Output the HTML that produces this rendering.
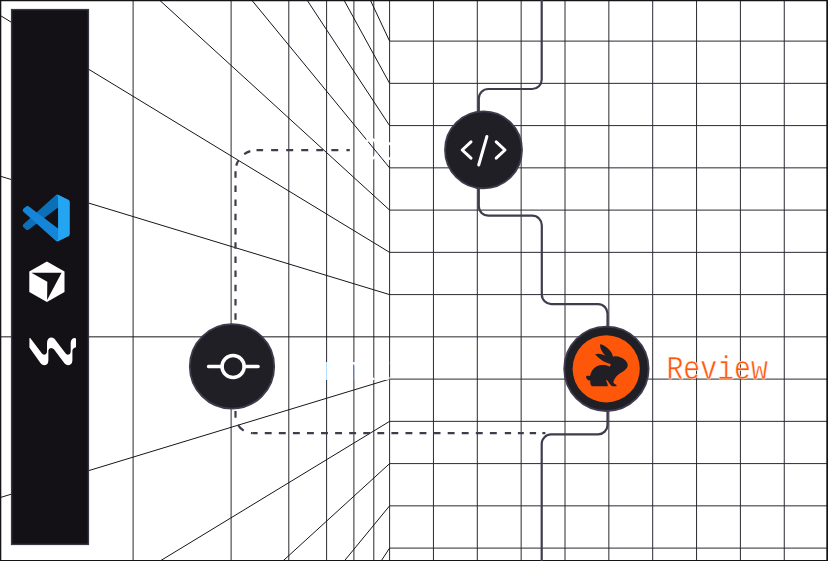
<!DOCTYPE html>
<html><head><meta charset="utf-8"><title>Review flow</title>
<style>
html,body{margin:0;padding:0;background:#fff;}
body{width:828px;height:561px;overflow:hidden;position:relative;font-family:"DejaVu Sans Mono","Liberation Mono",monospace;}
svg{position:absolute;left:0;top:0;display:block}
.lbl{position:absolute;font-size:27.6px;line-height:1;white-space:nowrap;transform-origin:0 100%;transform:scaleY(1.08);letter-spacing:0px}
</style></head><body>
<svg width="828" height="561" viewBox="0 0 828 561">
<rect x="0" y="0" width="828" height="561" fill="#ffffff"/>
<g stroke="#2b2930" stroke-width="1" fill="none" id="grid">
<line x1="389.60" y1="0" x2="389.60" y2="561"/>
<line x1="433.45" y1="0" x2="433.45" y2="561"/>
<line x1="477.30" y1="0" x2="477.30" y2="561"/>
<line x1="521.15" y1="0" x2="521.15" y2="561"/>
<line x1="565.00" y1="0" x2="565.00" y2="561"/>
<line x1="608.85" y1="0" x2="608.85" y2="561"/>
<line x1="652.70" y1="0" x2="652.70" y2="561"/>
<line x1="696.55" y1="0" x2="696.55" y2="561"/>
<line x1="740.40" y1="0" x2="740.40" y2="561"/>
<line x1="784.25" y1="0" x2="784.25" y2="561"/>
<line x1="828.10" y1="0" x2="828.10" y2="561"/>
<line x1="389.60" y1="41.10" x2="828" y2="41.10"/>
<line x1="389.60" y1="83.35" x2="828" y2="83.35"/>
<line x1="389.60" y1="125.60" x2="828" y2="125.60"/>
<line x1="389.60" y1="167.85" x2="828" y2="167.85"/>
<line x1="389.60" y1="210.10" x2="828" y2="210.10"/>
<line x1="389.60" y1="252.35" x2="828" y2="252.35"/>
<line x1="389.60" y1="294.60" x2="828" y2="294.60"/>
<line x1="389.60" y1="336.85" x2="828" y2="336.85"/>
<line x1="389.60" y1="379.10" x2="828" y2="379.10"/>
<line x1="389.60" y1="421.35" x2="828" y2="421.35"/>
<line x1="389.60" y1="463.60" x2="828" y2="463.60"/>
<line x1="389.60" y1="505.85" x2="828" y2="505.85"/>
<line x1="389.60" y1="548.10" x2="828" y2="548.10"/>
<line x1="373.80" y1="0" x2="373.80" y2="561"/>
<line x1="353.90" y1="0" x2="353.90" y2="561"/>
<line x1="326.60" y1="0" x2="326.60" y2="561"/>
<line x1="288.80" y1="0" x2="288.80" y2="561"/>
<line x1="231.10" y1="0" x2="231.10" y2="561"/>
<line x1="133.10" y1="0" x2="133.10" y2="561"/>
<line x1="389.60" y1="41.10" x2="-10" y2="-809.74" stroke="#17151b"/>
<line x1="389.60" y1="83.35" x2="-10" y2="-645.94" stroke="#17151b"/>
<line x1="389.60" y1="125.60" x2="-10" y2="-482.14" stroke="#17151b"/>
<line x1="389.60" y1="167.85" x2="-10" y2="-318.34" stroke="#17151b"/>
<line x1="389.60" y1="210.10" x2="-10" y2="-154.55" stroke="#17151b"/>
<line x1="389.60" y1="252.35" x2="-10" y2="9.25" stroke="#17151b"/>
<line x1="389.60" y1="294.60" x2="-10" y2="173.05" stroke="#17151b"/>
<line x1="389.60" y1="336.85" x2="-10" y2="336.85" stroke="#17151b"/>
<line x1="389.60" y1="379.10" x2="-10" y2="500.65" stroke="#17151b"/>
<line x1="389.60" y1="421.35" x2="-10" y2="664.45" stroke="#17151b"/>
<line x1="389.60" y1="463.60" x2="-10" y2="828.25" stroke="#17151b"/>
<line x1="389.60" y1="505.85" x2="-10" y2="992.04" stroke="#17151b"/>
<line x1="389.60" y1="548.10" x2="-10" y2="1155.84" stroke="#17151b"/>
</g>
<!-- frame -->
<path d="M0,0 H828 V561 H0 Z M1.3,1.3 V559.9 H826.3 V1.3 Z" fill="#151318" fill-rule="evenodd"/>
<!-- sidebar -->
<rect x="11.6" y="9.6" width="76.8" height="534.8" fill="#131116" stroke="#3a3745" stroke-width="1.4"/>
<!-- dashed -->
<g fill="none" stroke="#3f3c4c" stroke-width="2.2">
<path d="M349.8,150.2 H256.5" stroke-dasharray="7 8.05" stroke-dashoffset="3.6"/>
<path d="M256.5,150.2 A21,21 0 0 0 235.5,171.2" stroke-dasharray="0 6.3 6.8 8.5 5.5 100"/>
<path d="M235.5,171.2 V324" stroke-dasharray="6.5 7.7"/>
<path d="M235.5,411 V417.7"/>
<path d="M235.5,416.1 A17,17 0 0 0 252.5,433.1" stroke-dasharray="0 9.2 8.1 7.6 1.8 100"/>
<path d="M252.5,433.1 H498.2" stroke-dasharray="6.9 7.17" stroke-dashoffset="1.8"/>
<path d="M504.8,433.1 H511.1 M517.9,433.1 H523.8 M529.7,433.1 H536.1 M542.4,433.1 H545.4"/>
</g>
<!-- flow -->
<path d="M541.7,0 V79.5 A9.5,9.5 0 0 1 532.2,89 H488.3 A9.5,9.5 0 0 0 478.8,98.5 V206.2 A9.5,9.5 0 0 0 488.3,215.7 H532.3 A9.5,9.5 0 0 1 541.8,225.2 V294.6 A9.5,9.5 0 0 0 551.3,304.1 H598 A9.5,9.5 0 0 1 607.5,313.6 V424.9 A9.5,9.5 0 0 1 598,434.4 H551.2 A9.5,9.5 0 0 0 541.7,443.9 V561" fill="none" stroke="#3f3c4c" stroke-width="2.2"/>
<!-- code node -->
<circle cx="483.5" cy="149.9" r="38.5" fill="#211f26" stroke="#3f3c4d" stroke-width="1.8"/>
<g fill="none" stroke="#fff" stroke-width="3" stroke-linecap="round" stroke-linejoin="round">
<path d="M471,141.8 L462.2,150 L471,158.2"/>
<path d="M486.9,136.5 L478.7,165"/>
<path d="M496.2,141.8 L505,150 L496.2,158.2"/>
</g>
<!-- commit node -->
<circle cx="232" cy="366.4" r="42.2" fill="#211f26" stroke="#3f3c4d" stroke-width="1.8"/>
<g fill="none" stroke="#fff" stroke-width="3.5" stroke-linecap="round">
<circle cx="233.1" cy="366.5" r="11.1"/>
<path d="M208.5,366.5 H222 M244.2,366.5 H258.1"/>
</g>
<!-- review node -->
<circle cx="606.4" cy="368.8" r="42.2" fill="#211f26" stroke="#3f3c4d" stroke-width="1.8"/>
<circle cx="606.2" cy="368.8" r="33.6" fill="#ff570a"/>
<g transform="translate(582,340) scale(0.08913)" fill="#211f26">
<path d="M203,48 C245,52 300,95 330,140 C340,160 345,175 347,188 C390,172 450,195 490,232 C515,255 520,285 505,312 C485,345 440,365 405,390 C380,410 362,440 352,468 C350,485 365,492 385,503 L388,520 L340,519 C320,505 300,475 285,453 L268,446 C275,470 295,500 288,520 L112,520 C95,510 90,480 93,455 C75,455 55,445 47,420 C40,400 60,395 90,405 C95,370 120,320 165,295 C210,272 275,275 312,300 C318,290 322,280 322,268 C270,258 200,225 148,160 C200,140 270,170 315,212 C262,188 196,112 203,48 Z"/>
</g>
<!-- vscode -->
<g transform="translate(22.8,194.7) scale(0.470,0.466)">
<path fill="#0b70b8" d="M96.4614 10.7962L75.8569 0.875542C73.4719 -0.272773 70.6217 0.211611 68.75 2.08333L1.29858 63.5832C-0.515693 65.2373 -0.513607 68.0937 1.30308 69.7452L6.81272 74.754C8.29793 76.1042 10.5347 76.2036 12.1338 74.9905L93.3609 13.3699C96.086 11.3026 100 13.2462 100 16.6667V16.4275C100 14.0265 98.6246 11.8378 96.4614 10.7962Z"/>
<path fill="#1485d8" d="M96.4614 89.2038L75.8569 99.1245C73.4719 100.273 70.6217 99.7884 68.75 97.9167L1.29858 36.4169C-0.515693 34.7627 -0.513607 31.9063 1.30308 30.2548L6.81272 25.246C8.29793 23.8958 10.5347 23.7964 12.1338 25.0095L93.3609 86.6301C96.086 88.6974 100 86.7538 100 83.3334V83.5726C100 85.9735 98.6246 88.1622 96.4614 89.2038Z"/>
<path fill="#23a5f2" d="M75.8578 99.1263C73.4721 100.274 70.6219 99.7885 68.75 97.9166C71.0564 100.223 75 98.5895 75 95.3278V4.67213C75 1.41039 71.0564 -0.223106 68.75 2.08329C70.6219 0.211402 73.4721 -0.273666 75.8578 0.873633L96.4587 10.7807C98.6234 11.8217 100 14.0112 100 16.4132V83.5871C100 85.9891 98.6234 88.1786 96.4586 89.2196L75.8578 99.1263Z"/>
</g>
<!-- cursor -->
<polygon points="46.9,261.4 64.5,271.6 64.5,291.9 46.9,302.1 29.3,291.9 29.3,271.6" fill="#ffffff"/>
<polygon points="31.4,272.8 61.6,272.8 47.1,300 47.3,281.8" fill="#131116"/>
<!-- windsurf -->
<g transform="translate(24,332) scale(0.0677)" fill="#ffffff">
<path d="M80,90 L80,230 L245,462 Q290,510 340,475 Q360,455 360,420 L360,275 Q365,235 400,235 Q430,235 445,260 L600,465 Q645,510 690,478 Q715,460 715,420 L715,275 Q718,240 768,225 L768,95 Q740,80 715,100 Q690,120 690,160 L690,295 Q685,335 650,335 Q625,335 610,310 L450,100 Q400,60 360,100 Q340,125 340,160 L340,295 Q335,335 300,335 Q275,335 262,315 L95,92 Q85,85 80,90 Z"/>
</g>
<g font-family="'Liberation Mono','DejaVu Sans Mono',monospace" font-size="28.2">
<text transform="translate(362,159.5) scale(1,1.17)" fill="#ffffff">Code</text>
<text transform="translate(291,380) scale(1,1.17)" fill="#ffffff">Commit</text>
<text transform="translate(666.4,378.8) scale(1,1.17)" fill="#ff570a" stroke="#ffffff" stroke-width="0.45">Review</text>
</g>
</svg>
</body></html>
